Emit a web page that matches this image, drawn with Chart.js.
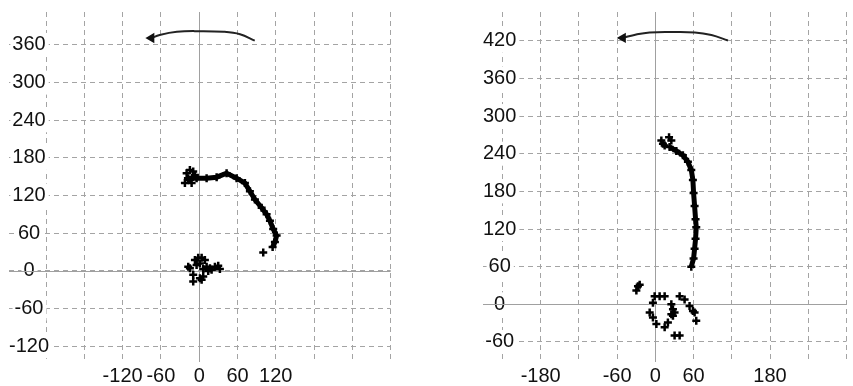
<!DOCTYPE html>
<html>
<head>
<meta charset="utf-8">
<script src="https://cdn.jsdelivr.net/npm/chart.js@4.4.0/dist/chart.umd.min.js"></script>
<style>
  body{margin:0;background:#fff;}
  .panel{position:absolute;top:0;}
</style>
</head>
<body>
<canvas id="izq" class="panel" width="400" height="386" style="left:0px"></canvas>
<canvas id="der" class="panel" width="413" height="386" style="left:440px"></canvas>
<script>
// panel izquierdo
const izqGridX = [-240,-180,-120,-60,0,60,120,180,240,300];
const izqLabelsX = [-120,-60,0,60,120];
const izqGridY = [-120,-60,0,60,120,180,240,300,360];

const izqArcoX = [-75,-62,-35,0,38,64,87];
const izqArcoY = [371,376,381,382,381,377,367];

const izqInicioX = [-19.7,-14.6,-9.4,-22.4,-14.6,-11.9,-6.7];
const izqInicioY = [155.6,160.7,158.2,139.9,145.1,139.9,152.9];

const izqCurvaX = [-17.7,-4.1,11.6,27.3,42.9,58.6,71.6,79.4,87.3,97.8,105.6,110.8,115.9,121.3,118.6,115];
const izqCurvaY = [147.7,147.7,147.7,149.3,155.6,147.7,139.9,126.9,113.7,100.7,90.2,79.9,66.7,56.4,45.9,38.1];

const izqNubeX = [100.3,-6.7,-1.6,3.8,8.9,-14.6,-17.2,-4.1,1.1,11.6,16.8,24.6,29.8,32.4,6.3,14.1,19.4,-9.4,1.1,6.3,-9.4,3.8];
const izqNubeY = [29.1,17.2,20.8,20.8,17.2,4.1,6.7,9.4,11.9,6.7,4.1,6.7,8.3,3.1,3.1,0,1.6,-6.3,-11.6,-8.9,-16.8,-14.1];

// panel derecho
const derGridX = [-240,-180,-120,-60,0,60,120,180,240,300];
const derLabelsX = [-180,-60,0,60,180];
const derGridY = [-60,0,60,120,180,240,300,360,420];

const derArcoX = [-51,-30,-9,26,62,88,114];
const derArcoY = [424.5,430,433.3,434,433.3,429,420.3];

const derInicioX = [9.4,14.6,21.5,25.1,11.9];
const derInicioY = [261,253.2,266.3,261,255.8];

const derCurvaX = [22.4,32.9,43.2,51.1,56.4,58.9,60,61.6,63.1,64.2,63.1,61.6,60,56.4];
const derCurvaY = [250.7,244.4,237.5,227.2,214,198.3,177.5,156.7,135.7,122.7,104.3,88.7,73,60];

const derNubeX = [-27.3,-24.6,-29.8,-1.1,6.7,14.6,-3.8,-8.9,-3.8,1.6,14.6,19.7,25.1,27.6,25.1,30.2,27.6,38.1,45.9,53.7,59,64.2,61.6,30.2,38.1];
const derNubeY = [28.7,31.3,21.9,13,13,13,2.5,-13.2,-21,-31.3,-36.7,-28.8,-15.7,-7.8,0,-13.2,-18.3,13,7.8,-2.7,-10.5,-26.2,-13.2,-49.7,-49.7];

const pares = (xs, ys) => xs.map((x, i) => ({x: x, y: ys[i]}));

const fuente = {family: 'Liberation Sans', size: 20};
const colorGrid = '#a4a4a4';
const colorTexto = '#111';

// ejes en cero, linea continua
const lineasCero = {
  id: 'lineasCero',
  beforeDatasetsDraw(chart) {
    const {ctx, chartArea, scales} = chart;
    const px = Math.round(scales.x.getPixelForValue(0)) + 0.5;
    const py = Math.round(scales.y.getPixelForValue(0)) + 0.5;
    ctx.save();
    ctx.strokeStyle = '#a0a0a0';
    ctx.lineWidth = 1;
    ctx.setLineDash([]);
    ctx.beginPath();
    ctx.moveTo(px, chartArea.top);
    ctx.lineTo(px, chartArea.bottom);
    ctx.moveTo(chartArea.left, py);
    ctx.lineTo(chartArea.right, py);
    ctx.stroke();
    ctx.restore();
  }
};

const hazEscalas = (xMin, xMax, yMin, yMax, gridX, labelsX, gridY) => ({
  x: {
    type: 'linear', min: xMin, max: xMax,
    afterBuildTicks: a => { a.ticks = gridX.map(v => ({value: v})); },
    afterFit: a => { a.height = 24; },
    grid: {color: colorGrid, drawTicks: false},
    border: {display: false, dash: [5, 4]},
    ticks: {
      autoSkip: false, maxRotation: 0, padding: 2, color: colorTexto, font: fuente,
      callback: v => labelsX.includes(v) ? String(v) : ''
    }
  },
  y: {
    type: 'linear', min: yMin, max: yMax, position: 'left',
    afterBuildTicks: a => { a.ticks = gridY.map(v => ({value: v})); },
    afterFit: a => { a.width = 0; },
    grid: {color: colorGrid, drawTicks: false},
    border: {display: false, dash: [5, 4]},
    ticks: {
      mirror: true, crossAlign: 'center', padding: 0, color: colorTexto, font: fuente,
      showLabelBackdrop: true, backdropColor: '#fff',
      backdropPadding: {left: 2, right: 3, top: 0, bottom: 0},
      callback: v => String(v)
    }
  }
});

const hazDatos = (arcoX, arcoY, curvaX, curvaY, inicioX, inicioY, nubeX, nubeY) => ({
  datasets: [
    {
      data: pares(arcoX, arcoY), showLine: true, borderColor: '#222', borderWidth: 2,
      tension: 0.4, pointStyle: 'triangle', pointRotation: 270,
      pointRadius: arcoX.map((v, i) => i === 0 ? 4 : 0),
      pointBackgroundColor: '#111', pointBorderColor: '#111'
    },
    {
      data: pares(curvaX, curvaY), showLine: true, borderColor: '#000', borderWidth: 5,
      pointStyle: 'cross', pointRadius: 4, pointBorderWidth: 2.5, pointBorderColor: '#000'
    },
    {
      data: pares(inicioX, inicioY), showLine: false,
      pointStyle: 'cross', pointRadius: 4, pointBorderWidth: 2.5, pointBorderColor: '#000'
    },
    {
      data: pares(nubeX, nubeY), showLine: false,
      pointStyle: 'cross', pointRadius: 4, pointBorderWidth: 2.5, pointBorderColor: '#000'
    }
  ]
});

const opcionesBase = (escalas, padding) => ({
  responsive: false, animation: false, events: [],
  layout: {padding: padding},
  plugins: {legend: {display: false}, tooltip: {enabled: false}},
  scales: escalas
});

new Chart(document.getElementById('izq'), {
  type: 'scatter',
  data: hazDatos(izqArcoX, izqArcoY, izqCurvaX, izqCurvaY, izqInicioX, izqInicioY, izqNubeX, izqNubeY),
  options: opcionesBase(
    hazEscalas(-298, 300, -145.2, 412.5, izqGridX, izqLabelsX, izqGridY),
    {left: 9, right: 9.3, top: 6, bottom: 0}
  ),
  plugins: [lineasCero]
});

new Chart(document.getElementById('der'), {
  type: 'scatter',
  data: hazDatos(derArcoX, derArcoY, derCurvaX, derCurvaY, derInicioX, derInicioY, derNubeX, derNubeY),
  options: opcionesBase(
    hazEscalas(-270.5, 300, -91.9, 465.8, derGridX, derLabelsX, derGridY),
    {left: 43, right: 5.8, top: 6, bottom: 0}
  ),
  plugins: [lineasCero]
});
</script>
</body>
</html>
